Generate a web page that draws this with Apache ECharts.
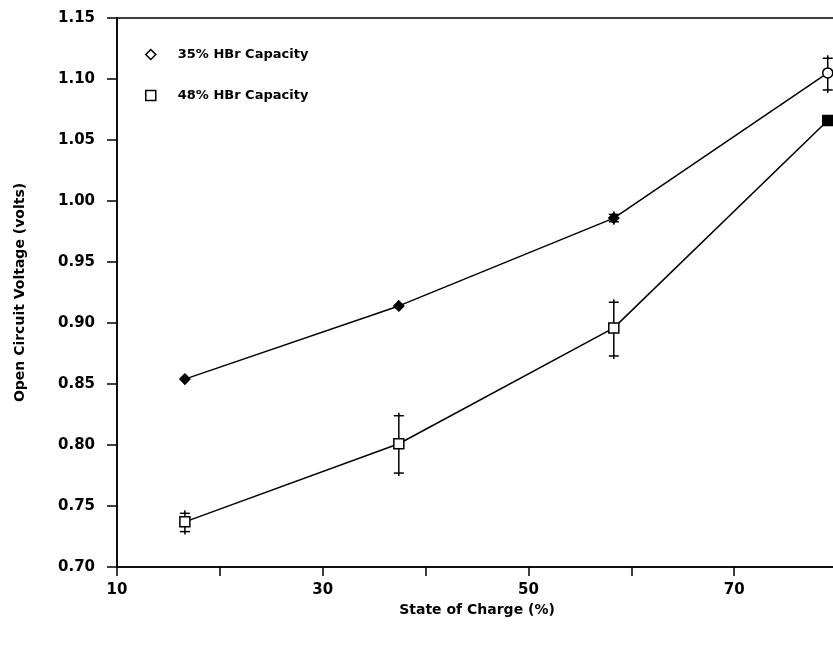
<!DOCTYPE html>
<html>
<head>
<meta charset="utf-8">
<script src="https://cdn.jsdelivr.net/npm/echarts@6/dist/echarts.min.js"></script>
<style>
  html, body { margin: 0; padding: 0; background: #fff; }
  #chart { width: 833px; height: 645px; }
</style>
</head>
<body>
<div id="chart"></div>
<script>
// State of charge (%) at which the open circuit voltage was measured
const socValues = [16.6, 37.4, 58.3, 79.1];

// 35% HBr capacity electrolyte
const ocv35 = [0.854, 0.914, 0.986, 1.105];
const ocv35Low = [null, null, 0.983, 1.091];
const ocv35High = [null, null, 0.989, 1.117];

// 48% HBr capacity electrolyte
const ocv48 = [0.737, 0.801, 0.896, 1.066];
const ocv48Low = [0.729, 0.777, 0.873, null];
const ocv48High = [0.744, 0.824, 0.917, null];

const seriesNames = ['35% HBr Capacity', '48% HBr Capacity'];
const xTickLabels = ['10', '30', '50', '70'];

const FONT = 'DejaVu Sans';
const INK = '#000';

function pointData(values, symbols, fills) {
  return values.map((v, i) => ({
    value: [socValues[i], v],
    symbol: symbols[i],
    itemStyle: { color: fills[i], borderColor: INK, borderWidth: 1.5 }
  }));
}

function errorData(lows, highs) {
  const rows = [];
  lows.forEach((lo, i) => {
    if (lo != null && highs[i] != null) rows.push([socValues[i], lo, highs[i]]);
  });
  return rows;
}

function renderErrorBar(params, api) {
  const x = api.value(0);
  const lo = api.coord([x, api.value(1)]);
  const hi = api.coord([x, api.value(2)]);
  const half = 5;
  const over = 3;
  const style = { stroke: INK, lineWidth: 1.5 };
  return {
    type: 'group',
    children: [
      { type: 'line', shape: { x1: hi[0], y1: hi[1] - over, x2: lo[0], y2: lo[1] + over }, style },
      { type: 'line', shape: { x1: hi[0] - half, y1: hi[1], x2: hi[0] + half, y2: hi[1] }, style },
      { type: 'line', shape: { x1: lo[0] - half, y1: lo[1], x2: lo[0] + half, y2: lo[1] }, style }
    ]
  };
}

const chart = echarts.init(document.getElementById('chart'), null, { renderer: 'canvas' });

chart.setOption({
  backgroundColor: '#fff',
  animation: false,
  textStyle: { fontFamily: FONT, color: INK },
  grid: {
    left: 117, top: 18, width: 720, height: 549,
    outerBoundsMode: 'none',
    containLabel: false,
    show: true, borderColor: INK, borderWidth: 1.5, backgroundColor: 'transparent'
  },
  legend: {
    orient: 'vertical',
    left: 140, top: 43,
    itemWidth: 10, itemHeight: 10,
    itemGap: 28,
    textStyle: { fontFamily: FONT, fontSize: 13, fontWeight: 'bold', color: INK, padding: [0, 0, 0, 17] },
    data: [
      { name: seriesNames[0], icon: 'diamond', itemStyle: { color: '#fff', borderColor: INK, borderWidth: 1.5 } },
      { name: seriesNames[1], icon: 'rect', itemStyle: { color: '#fff', borderColor: INK, borderWidth: 1.5 } }
    ]
  },
  xAxis: {
    type: 'value',
    min: 10, max: 80, interval: 10,
    name: 'State of Charge (%)',
    nameLocation: 'middle',
    nameGap: 32,
    nameTextStyle: { fontFamily: FONT, fontSize: 14, fontWeight: 'bold', color: INK },
    axisLine: { show: true, lineStyle: { color: INK, width: 1.5 } },
    axisTick: { show: true, length: 9, lineStyle: { color: INK, width: 1.5 } },
    axisLabel: {
      margin: 16,
      fontFamily: FONT, fontSize: 15, fontWeight: 'bold', color: INK,
      formatter: v => (xTickLabels.includes(String(v)) ? String(v) : '')
    },
    splitLine: { show: false }
  },
  yAxis: {
    type: 'value',
    min: 0.70, max: 1.15, interval: 0.05,
    name: 'Open Circuit Voltage (volts)',
    nameLocation: 'middle',
    nameGap: 90,
    nameTextStyle: { fontFamily: FONT, fontSize: 14, fontWeight: 'bold', color: INK },
    axisLine: { show: true, lineStyle: { color: INK, width: 1.5 } },
    axisTick: { show: true, length: 10, lineStyle: { color: INK, width: 1.5 } },
    axisLabel: {
      margin: 22,
      fontFamily: FONT, fontSize: 15, fontWeight: 'bold', color: INK,
      formatter: v => v.toFixed(2)
    },
    splitLine: { show: false }
  },
  series: [
    {
      name: seriesNames[0],
      type: 'line',
      symbolSize: 10,
      lineStyle: { color: INK, width: 1.5 },
      itemStyle: { color: INK },
      data: pointData(ocv35, ['diamond', 'diamond', 'diamond', 'circle'], [INK, INK, INK, '#fff']),
      z: 3
    },
    {
      name: seriesNames[1],
      type: 'line',
      symbolSize: 10,
      lineStyle: { color: INK, width: 1.5 },
      itemStyle: { color: INK },
      data: pointData(ocv48, ['rect', 'rect', 'rect', 'rect'], ['#fff', '#fff', '#fff', INK]),
      z: 3
    },
    {
      name: seriesNames[0] + ' range',
      type: 'custom',
      renderItem: renderErrorBar,
      data: errorData(ocv35Low, ocv35High),
      z: 2
    },
    {
      name: seriesNames[1] + ' range',
      type: 'custom',
      renderItem: renderErrorBar,
      data: errorData(ocv48Low, ocv48High),
      z: 2
    }
  ]
});
</script>
</body>
</html>
